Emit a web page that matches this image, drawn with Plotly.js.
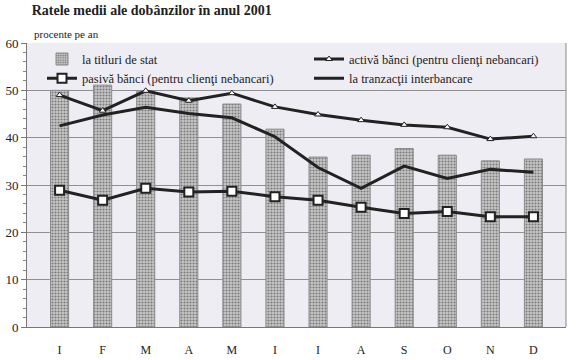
<!DOCTYPE html>
<html><head><meta charset="utf-8">
<script src="https://cdn.plot.ly/plotly-3.0.1.min.js"></script>
<style>body{margin:0;background:#fff}#c{width:576px;height:360px}</style>
</head><body><div id="c"></div>
<script>
const months = ['I','F','M','A','M ','I ','I  ','A ','S','O','N','D'];
const monthLabels = ['I','F','M','A','M','I','I','A','S','O','N','D'];
const titluri = [50.0, 51.1, 49.8, 48.4, 47.1, 41.8, 35.9, 36.3, 37.7, 36.3, 35.1, 35.5];
const activa = [49.0, 45.7, 49.9, 47.8, 49.4, 46.5, 44.9, 43.7, 42.7, 42.2, 39.7, 40.3];
const pasiva = [28.9, 26.8, 29.3, 28.5, 28.7, 27.5, 26.8, 25.3, 24.0, 24.4, 23.3, 23.3];
const interb = [42.5, 44.8, 46.4, 45.1, 44.2, 40.2, 33.7, 29.3, 34.0, 31.4, 33.3, 32.7];

const serif = "'Liberation Serif', serif";
const data = [
  {type:'bar', x:months, y:titluri, name:'la titluri de stat', width:0.42,
   marker:{color:'#b8b8b8', line:{color:'#8a8a8a', width:1},
           pattern:{shape:'.', fgcolor:'#7a7a7a', bgcolor:'#c8c8c8', size:3, solidity:0.4}}},
  {type:'scatter', mode:'lines+markers', x:months, y:activa, name:'activă bănci (pentru clienţi nebancari)',
   line:{color:'#222', width:3}, marker:{symbol:'triangle-up', size:6, color:'#fff', line:{color:'#222', width:1}}},
  {type:'scatter', mode:'lines+markers', x:months, y:pasiva, name:'pasivă bănci (pentru clienţi nebancari)',
   line:{color:'#222', width:3}, marker:{symbol:'square', size:9, color:'#fff', line:{color:'#222', width:2}}},
  {type:'scatter', mode:'lines', x:months, y:interb, name:'la tranzacţii interbancare',
   line:{color:'#222', width:3}}
];
const layout = {
  width:576, height:360,
  paper_bgcolor:'#ffffff', plot_bgcolor:'#eeedf4',
  margin:{l:27, r:10, t:43, b:33},
  font:{family:serif, size:12, color:'#222'},
  title:{text:'<b>Ratele medii ale dobânzilor în anul 2001</b>', x:0.055, xanchor:'left', y:0.985, yanchor:'top',
         font:{family:serif, size:14, color:'#222'}},
  showlegend:true,
  legend:{orientation:'h', x:0.043, xanchor:'left', y:0.995, yanchor:'top', bgcolor:'rgba(0,0,0,0)',
          entrywidth:222, entrywidthmode:'pixels', traceorder:'normal', font:{family:serif, size:12.5, color:'#222'},
          itemwidth:30, tracegroupgap:0},
  xaxis:{type:'category', tickmode:'array', tickvals:months, ticktext:monthLabels, showgrid:false,
         showline:true, linecolor:'#777', linewidth:1, ticks:'', ticklabelstandoff:12, mirror:false,
         tickfont:{family:serif, size:12, color:'#222'}},
  yaxis:{range:[0,60], dtick:10, showgrid:true, gridcolor:'#909090', gridwidth:1, zeroline:false,
         showline:true, linecolor:'#777', linewidth:1, ticks:'outside', ticklen:5, tickcolor:'#777',
         minor:{dtick:2, ticks:'outside', ticklen:3, tickcolor:'#888', showgrid:false},
         tickfont:{family:serif, size:13, color:'#222'}},
  annotations:[{text:'procente pe an', xref:'paper', yref:'paper', x:0.009, y:1.005, xanchor:'left', yanchor:'bottom',
                showarrow:false, font:{family:serif, size:11, color:'#222'}}],
  shapes:[{type:'line', xref:'paper', yref:'paper', x0:1, x1:1, y0:0, y1:1, line:{color:'#888', width:1}}]
};
Plotly.newPlot('c', data, layout, {staticPlot:true});
</script></body></html>
